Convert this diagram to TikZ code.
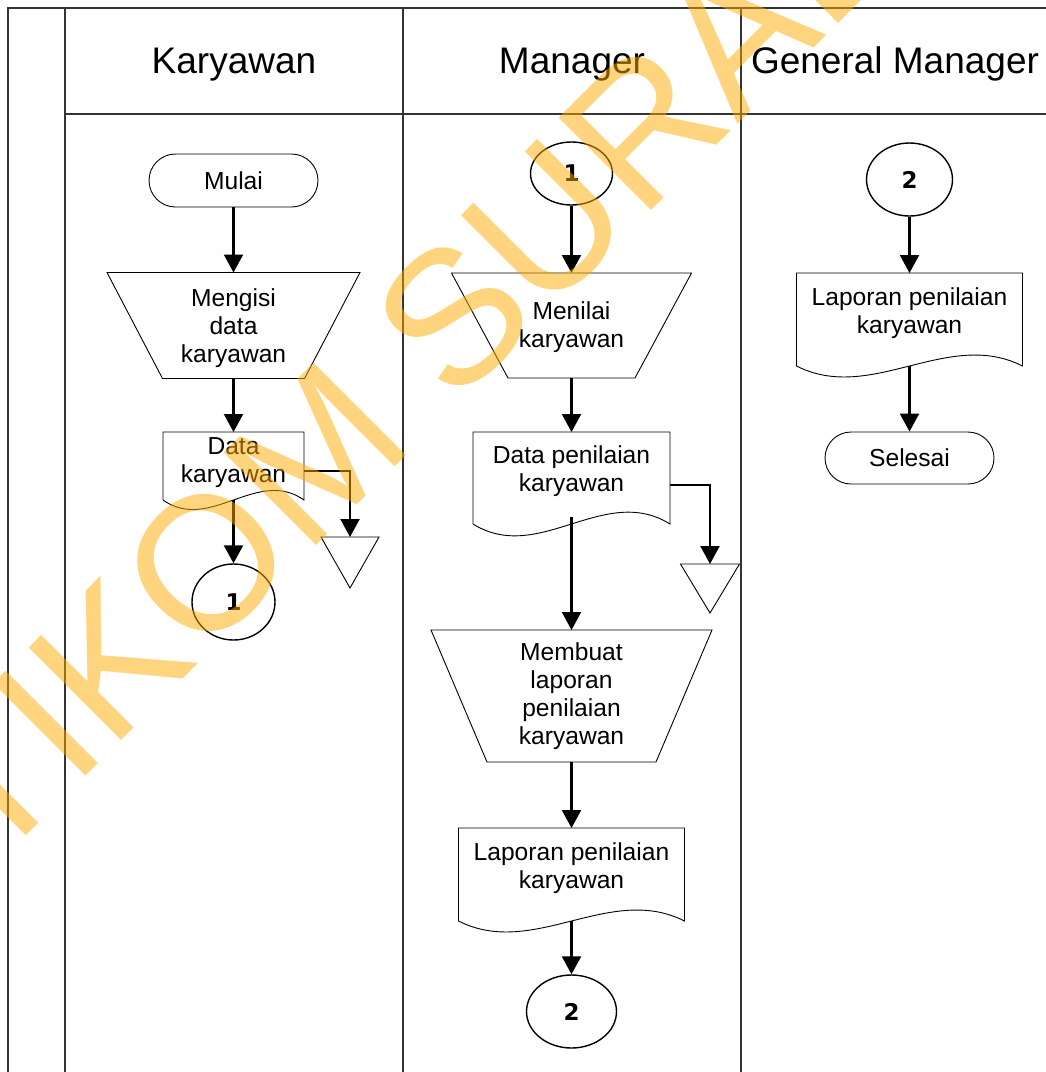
\documentclass[tikz,border=0pt]{standalone}
\usepackage{fontspec}
\setmainfont{Liberation Sans}
\newfontfamily\numfont{DejaVu Sans}
\usetikzlibrary{arrows.meta,shapes.misc,shapes.geometric}
\definecolor{wmorange}{RGB}{255,170,0}
\newcommand{\docshape}[3]{%
  \draw[shp] (#1.south west) -- (#1.north west) -- (#1.north east) -- (#1.south east)
    .. controls ([xshift=-#2pt,yshift=#3pt]#1.south east) and ([xshift=#2pt,yshift=-#3pt]#1.south west) .. (#1.south west);}
\newcommand{\trapshape}[2]{%
  \draw[shp] (#1.north west) -- (#1.north east) -- ([xshift=-#2pt]#1.south east) -- ([xshift=#2pt]#1.south west) -- cycle;}
\newcommand{\trishape}[1]{%
  \draw[shp] (#1.north west) -- (#1.north east) -- (#1.south) -- cycle;}
\begin{document}
\begin{tikzpicture}[x=1pt,y=-1pt,
  frame/.style={draw=black!80, line width=1.3pt},
  shp/.style={draw=black, line width=0.9pt},
  box/.style={inner sep=0pt, outer sep=0pt},
  txt/.style={align=center, font=\fontsize{24.6}{28}\selectfont, inner sep=0pt},
  hdr/.style={font=\fontsize{37}{44}\selectfont, anchor=base, inner sep=0pt},
  term/.style={rounded rectangle, draw, line width=0.9pt, inner sep=0pt, font=\fontsize{24.6}{28}\selectfont},
  conn/.style={ellipse, draw, line width=1.4pt, inner sep=0pt, font=\numfont\bfseries\fontsize{23}{26}\selectfont},
  flow/.style={line width=2.2pt, -{Triangle[length=18pt,width=19pt]}},
]
\useasboundingbox (0,0) rectangle (1046,1072);
\clip (0,0) rectangle (1046,1072);
\fill[white] (0,0) rectangle (1046,1072);

% swimlane frame
\draw[frame] (8,1072) -- (8,8) -- (1046,8);
\draw[frame] (65,8) -- (65,1072);
\draw[frame] (403,8) -- (403,1072);
\draw[frame] (741,8) -- (741,1072);
\draw[frame] (65,114) -- (1046,114);

% headers
\node[hdr] (hk) at (234,73) {Karyawan};
\node[hdr] (hm) at (572,73) {Manager};
\node[hdr] (hg) at (895,73) {General Manager};

% Karyawan lane
\node[term, minimum width=169pt, minimum height=53pt] (mulai) at (233.5,180.5) {Mulai};
\node[box, minimum width=253pt, minimum height=106pt] (isi) at (233.5,325.5) {};
\trapshape{isi}{55.5}
\node[txt] at (233.5,328.4) {Mengisi\strut\\data\strut\\karyawan\strut};
\node[box, minimum width=141pt, minimum height=68pt] (doc1) at (233.5,466) {};
\docshape{doc1}{47}{33}
\node[txt] at (233.5,462.4) {Data\strut\\karyawan\strut};
\node[box, minimum width=58pt, minimum height=51pt] (tri1) at (350,562.5) {};
\trishape{tri1}
\node[conn, minimum width=83pt, minimum height=76pt] (c1) at (233.5,602) {1};

% Manager lane
\node[conn, minimum width=82pt, minimum height=63pt] (c1m) at (571.5,173.5) {1};
\node[box, minimum width=240pt, minimum height=105pt] (nilai) at (571.5,325.5) {};
\trapshape{nilai}{56.5}
\node[txt] at (571.5,327.4) {Menilai\strut\\karyawan\strut};
\node[box, minimum width=197pt, minimum height=92pt] (doc2) at (571.5,478) {};
\docshape{doc2}{66}{41}
\node[txt] at (571.5,471.7) {Data penilaian\strut\\karyawan\strut};
\node[box, minimum width=59pt, minimum height=49pt] (tri2) at (710,588.5) {};
\trishape{tri2}
\node[box, minimum width=281pt, minimum height=132pt] (buat) at (571.5,696) {};
\trapshape{buat}{56}
\node[txt] at (571.5,697.1) {Membuat\strut\\laporan\strut\\penilaian\strut\\karyawan\strut};
\node[box, minimum width=226pt, minimum height=93pt] (doc3) at (571.5,874.5) {};
\docshape{doc3}{75}{38}
\node[txt] at (571.5,868.4) {Laporan penilaian\strut\\karyawan\strut};
\node[conn, minimum width=90pt, minimum height=73pt] (c2m) at (571.5,1011.5) {2};

% General Manager lane
\node[conn, minimum width=86pt, minimum height=73pt] (c2g) at (909.5,179.5) {2};
\node[box, minimum width=226pt, minimum height=93pt] (doc4) at (909.5,319.5) {};
\docshape{doc4}{75}{38}
\node[txt] at (909.5,313.4) {Laporan penilaian\strut\\karyawan\strut};
\node[term, minimum width=169pt, minimum height=52pt] (selesai) at (909.5,458) {Selesai};

% connectors
\draw[flow] (mulai.south) -- (isi.north);
\draw[flow] (isi.south) -- (doc1.north);
\draw[flow] (doc1.south) -- (c1.north);
\draw[flow] ([yshift=-5pt]doc1.east) -| (tri1.north);
\draw[flow] (c1m.south) -- (nilai.north);
\draw[flow] (nilai.south) -- (doc2.north);
\draw[flow] ([yshift=7pt]doc2.south) -- (buat.north);
\draw[flow] ([yshift=-7pt]doc2.east) -| (tri2.north);
\draw[flow] (buat.south) -- (doc3.north);
\draw[flow] (doc3.south) -- (c2m.north);
\draw[flow] (c2g.south) -- (doc4.north);
\draw[flow] (doc4.south) -- (selesai.north);

% watermark
\node[rotate=45, anchor=base, inner sep=0pt, text=wmorange, text opacity=0.5,
      font=\fontsize{190}{200}\selectfont] (wm) at (534,328) {STIKOM SURABAYA};
\end{tikzpicture}
\end{document}
